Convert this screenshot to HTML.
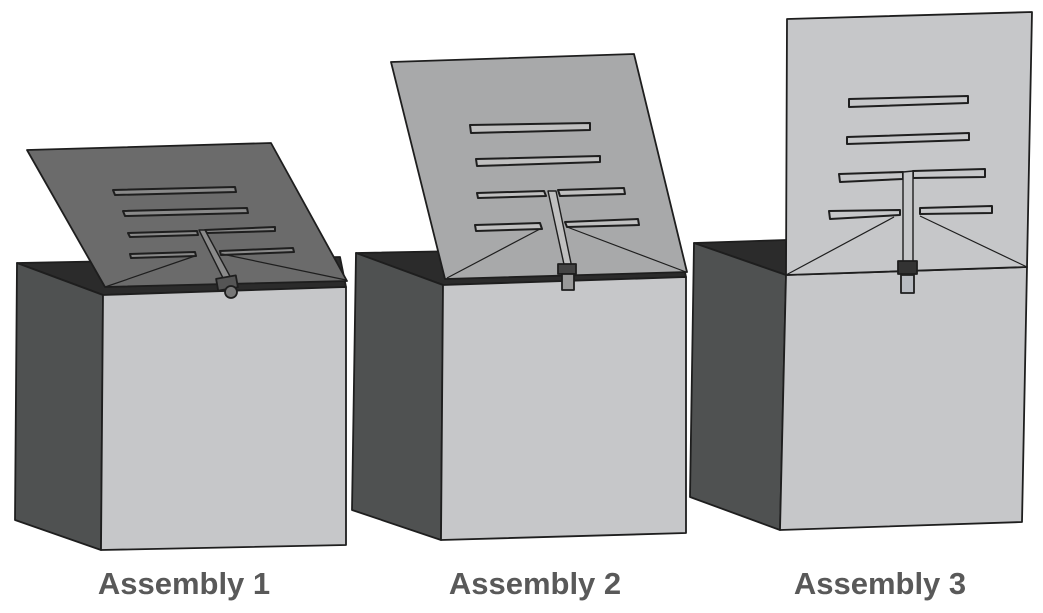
<!DOCTYPE html>
<html><head><meta charset="utf-8"><style>
html,body{margin:0;padding:0;background:#fff;}
svg{display:block}
text{font-family:"Liberation Sans",sans-serif;font-weight:bold;font-size:31px;fill:#595959}
</style></head><body>
<svg width="1043" height="613" viewBox="0 0 1043 613" xmlns="http://www.w3.org/2000/svg" stroke="#1e1e1e" stroke-width="1.8" stroke-linejoin="round">
<!-- Assembly 1 -->
<polygon points="17,263 340,257 346,287 103,295" fill="#2b2b2b"/>
<polygon points="17,263 103,295 101,550 15,520" fill="#4f5151"/>
<polygon points="103,295 346,287 346,545 101,550" fill="#c6c7c9"/>
<polygon points="27,150 271,143 347,281 105,287" fill="#6b6b6b"/>
<g fill="#8a8a8a" stroke-width="2">
<polygon points="113,190 235,187 236,192 115,195"/>
<polygon points="123,211 247,208 248,213 125,216"/>
<polygon points="128,233 197,231 198,235 130,237"/>
<polygon points="205,230 275,227 275,231 207,233"/>
<polygon points="130,254 195,252 196,256 131,258"/>
<polygon points="220,251 293,248 294,252 221,255"/>
</g>
<polyline points="195,256 105,287" fill="none" stroke-width="1.2"/>
<polyline points="222,254 346,280" fill="none" stroke-width="1.2"/>
<polygon points="199,230 205,230 232,280 225,282" fill="#8a8a8a" stroke-width="1.4"/>
<rect x="217" y="277" width="20" height="12" fill="#555" transform="rotate(-10 227 283)"/>
<circle cx="231" cy="292" r="6" fill="#777"/>
<text x="184" y="594" text-anchor="middle" stroke="none">Assembly 1</text>

<!-- Assembly 2 -->
<polygon points="356,253 680,247 686,277 443,285" fill="#2b2b2b"/>
<polygon points="356,253 443,285 441,540 352,510" fill="#4f5151"/>
<polygon points="443,285 686,277 686,533 441,540" fill="#c6c7c9"/>
<polygon points="391,62 634,54 687,272 445,279" fill="#a8a9aa"/>
<g fill="#c0c0c0" stroke-width="2">
<polygon points="470,125 590,123 590,130 471,133"/>
<polygon points="476,159 600,156 600,162 477,166"/>
<polygon points="477,193 544,191 546,196 478,198"/>
<polygon points="558,190 624,188 625,194 560,196"/>
<polygon points="475,225 540,223 542,229 476,231"/>
<polygon points="565,222 638,219 639,225 567,227"/>
</g>
<polyline points="540,229 447,278" fill="none" stroke-width="1.2"/>
<polyline points="567,227 686,272" fill="none" stroke-width="1.2"/>
<polygon points="548,191 556,191 572,268 565,269" fill="#c0c0c0" stroke-width="1.4"/>
<rect x="558" y="264" width="18" height="10" fill="#444"/>
<rect x="562" y="274" width="12" height="16" fill="#999"/>
<text x="535" y="594" text-anchor="middle" stroke="none">Assembly 2</text>

<!-- Assembly 3 -->
<polygon points="694,243 786,240 786,275" fill="#2b2b2b"/>
<polygon points="694,243 786,275 780,530 690,497" fill="#4f5151"/>
<polygon points="786,275 1027,267 1022,522 780,530" fill="#c6c7c9"/>
<polygon points="787,19 1032,12 1027,267 786,275" fill="#c6c7c9"/>
<g fill="#c6c7c9" stroke-width="2">
<polygon points="849,99 968,96 968,103 849,107"/>
<polygon points="847,137 969,133 969,140 847,144"/>
<polygon points="839,174 903,172 903,179 840,182"/>
<polygon points="913,171 985,169 985,177 913,178"/>
<polygon points="829,211 900,210 900,215 830,219"/>
<polygon points="920,208 992,206 992,213 920,214"/>
</g>
<polyline points="894,217 786,275" fill="none" stroke-width="1.2"/>
<polyline points="920,216 1027,267" fill="none" stroke-width="1.2"/>
<polygon points="903,172 913,171 913,262 903,262" fill="#c6c7c9" stroke-width="1.4"/>
<rect x="898" y="261" width="19" height="13" fill="#333"/>
<rect x="901" y="275" width="13" height="18" fill="#b8bcc2"/>
<text x="880" y="594" text-anchor="middle" stroke="none">Assembly 3</text>
</svg>
</body></html>
